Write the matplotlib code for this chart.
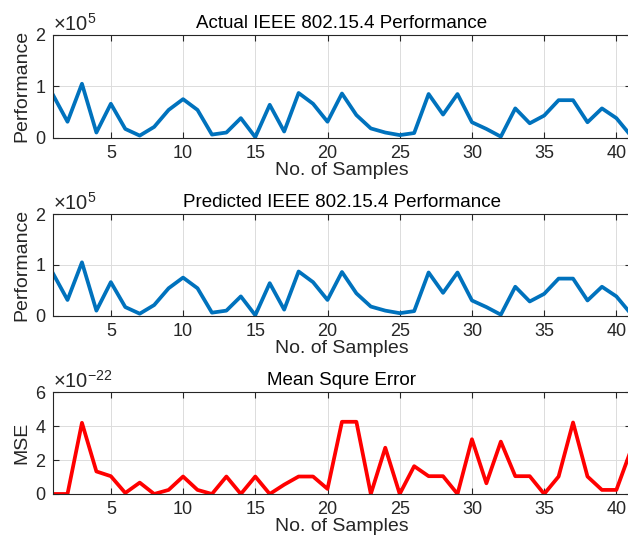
import matplotlib
matplotlib.use("Agg")
import matplotlib.pyplot as plt
from matplotlib.ticker import ScalarFormatter

plt.rcParams.update({
    "font.family": ["Liberation Sans", "DejaVu Sans"],
    "mathtext.fontset": "custom",
    "mathtext.rm": "Liberation Sans",
    "font.size": 12,
})

samples = list(range(1, 42))
actual = [0.83, 0.31, 1.05, 0.10, 0.66, 0.17, 0.04, 0.21, 0.54, 0.75,
          0.54, 0.06, 0.10, 0.38, 0.01, 0.64, 0.12, 0.87, 0.66, 0.31,
          0.86, 0.44, 0.18, 0.10, 0.05, 0.09, 0.85, 0.45, 0.85, 0.30,
          0.17, 0.02, 0.57, 0.28, 0.43, 0.73, 0.73, 0.30, 0.57, 0.38, 0.04]
actual = [v * 1e5 for v in actual]
predicted = list(actual)
mse = [0.0, 0.0, 4.2, 1.33, 1.05, 0.06, 0.67, 0.0, 0.24, 1.03,
       0.24, 0.0, 1.03, 0.0, 1.03, 0.0, 0.55, 1.03, 1.03, 0.3,
       4.26, 4.26, 0.0, 2.73, 0.0, 1.64, 1.05, 1.05, 0.0, 3.23,
       0.63, 3.09, 1.05, 1.05, 0.0, 1.03, 4.22, 1.03, 0.24, 0.24, 2.57]
mse = [v * 1e-22 for v in mse]

BLUE = "#0072BD"
RED = "#FF0000"
TXT = "#262626"

fig = plt.figure(figsize=(6.28, 5.42), dpi=100)
L, W = 0.0845, 0.920
boxes = [(L, 0.746, W, 0.1895), (L, 0.4175, W, 0.1876), (L, 0.0886, W, 0.1876)]
panels = [
    (actual, BLUE, "Actual IEEE 802.15.4 Performance", "Performance", (0, 2e5), [0, 1e5, 2e5]),
    (predicted, BLUE, "Predicted IEEE 802.15.4 Performance", "Performance", (0, 2e5), [0, 1e5, 2e5]),
    (mse, RED, "Mean Squre Error", "MSE", (0, 6e-22), [0, 2e-22, 4e-22, 6e-22]),
]

for box, (vals, col, title, ylab, ylim, yt) in zip(boxes, panels):
    ax = fig.add_axes(box)
    ax.plot(samples, vals, color=col, lw=2.7)
    ax.set_xlim(1, 41)
    ax.set_ylim(*ylim)
    ax.set_xticks([5, 10, 15, 20, 25, 30, 35, 40])
    ax.set_yticks(yt)
    fmt = ScalarFormatter(useMathText=True)
    fmt.set_powerlimits((0, 0))
    ax.yaxis.set_major_formatter(fmt)
    ax.yaxis.get_offset_text().set_fontsize(14.5)
    ax.yaxis.get_offset_text().set_color(TXT)
    ax.grid(True, color="#dcdcdc", lw=0.7)
    ax.set_axisbelow(True)
    ax.tick_params(direction="in", length=4, colors=TXT, labelsize=13,
                   top=True, right=True, pad=5)
    for s in ax.spines.values():
        s.set_color(TXT)
        s.set_linewidth(0.8)
    ax.set_title(title, fontsize=13.5, color="black", pad=5)
    ax.set_xlabel("No. of Samples", fontsize=14, color=TXT, labelpad=0)
    ax.set_ylabel(ylab, fontsize=14, color=TXT, labelpad=3)

fig.savefig("out.png", dpi=100)
